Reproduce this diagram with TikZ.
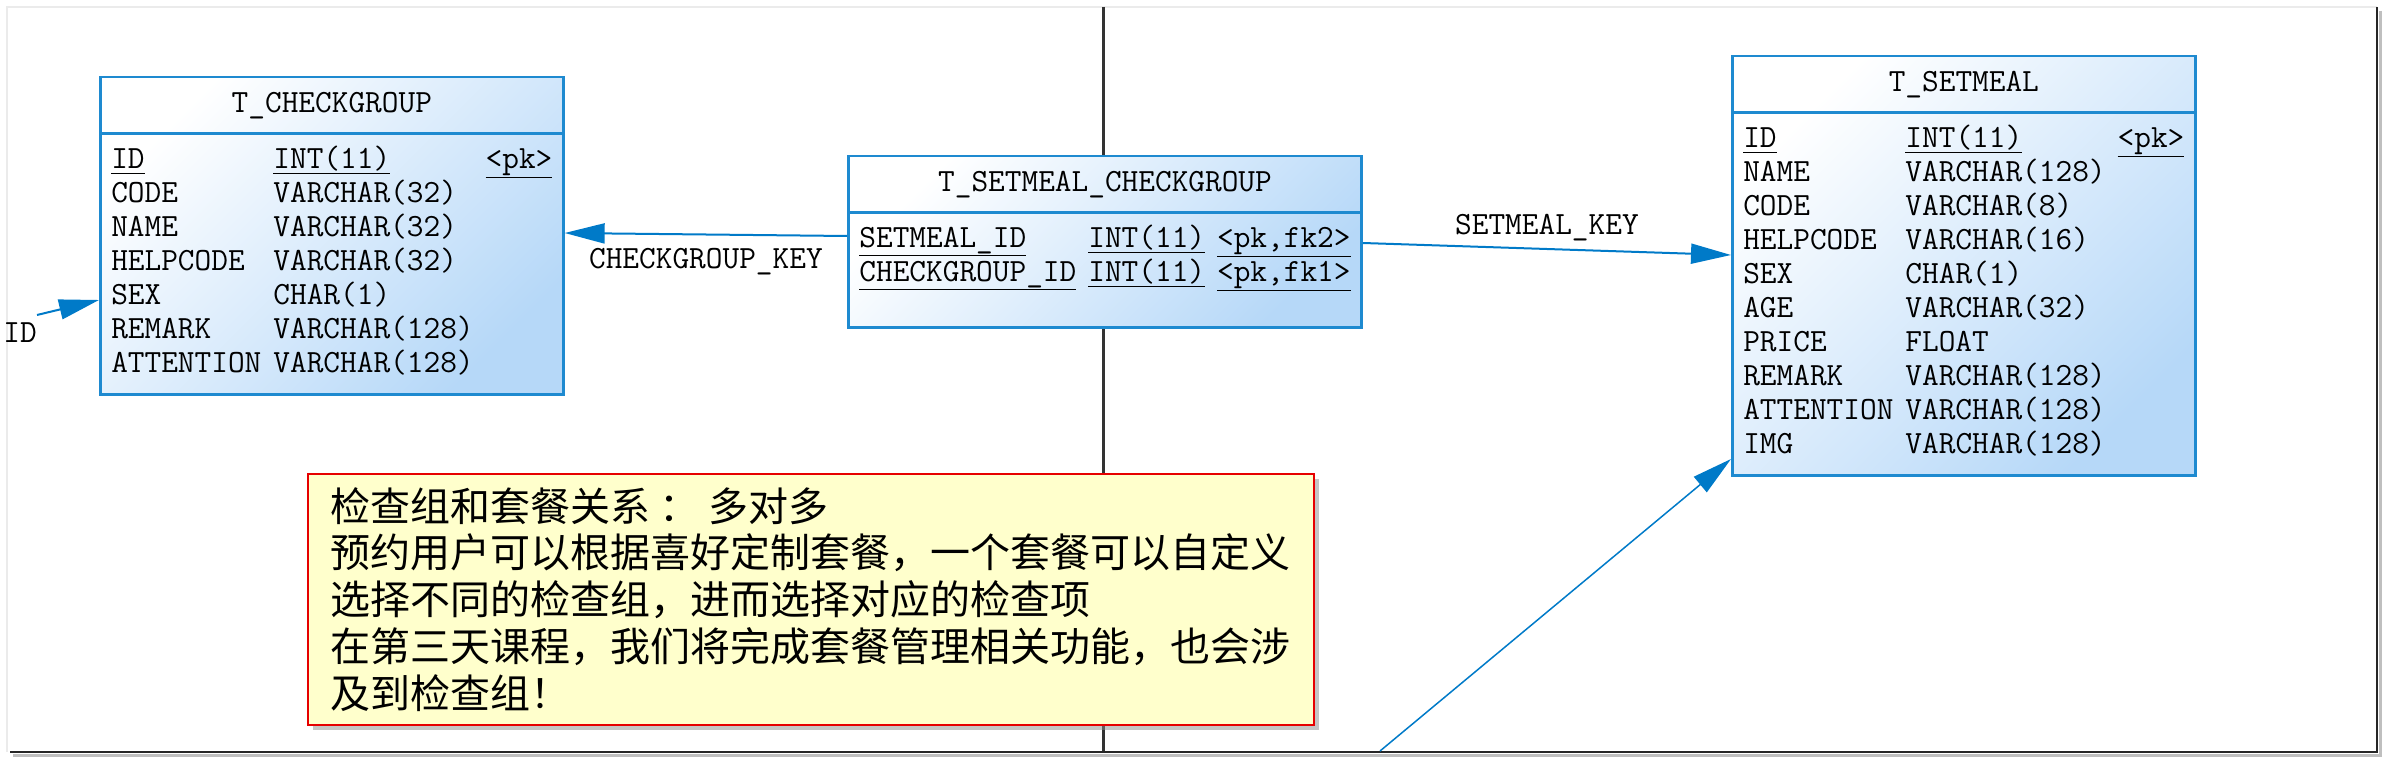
\documentclass[tikz,border=0pt]{standalone}
\usepackage{fontspec}
\newfontfamily\erfont{Latin Modern Mono}
\newfontfamily\cjkfont{Noto Sans CJK SC}
\usetikzlibrary{shapes.multipart, arrows.meta, positioning, shadows}
\definecolor{tblblue}{RGB}{30,138,208}
\definecolor{tblfill}{RGB}{182,216,248}
\definecolor{fkblue}{RGB}{0,122,200}
\definecolor{notefill}{RGB}{255,255,204}
\definecolor{notered}{RGB}{230,0,0}
\newcommand{\keyul}[1]{\underline{#1\vphantom{(}}}
\newcommand{\erfontsize}{\erfont\fontsize{32.4}{34}\selectfont}
\tikzset{
  tbl/.style={rectangle split, rectangle split parts=2, rectangle split part align={center,left},
    draw=tblblue, line width=2.5pt, top color=white, bottom color=tblfill, shading angle=45,
    inner xsep=11pt, inner ysep=10pt, font=\erfontsize},
  note/.style={draw=notered, fill=notefill, line width=1.5pt, align=left,
    font=\cjkfont\fontsize{40}{46.7}\selectfont,
    drop shadow={shadow xshift=5pt, shadow yshift=-5pt, fill=black!45}},
  fk/.style={draw=fkblue, line width=2pt, -{Triangle[length=40pt,width=20pt]}},
  keylbl/.style={font=\erfontsize, inner sep=10pt}
}
\begin{document}
\begin{tikzpicture}[x=1pt, y=-1pt]
\useasboundingbox (0,0) rectangle (2385,759);
\draw[black!8, line width=1.5pt] (7,752) -- (7,7) -- (2377,7);
\draw[black!25, line width=3pt] (2380,11) -- (2380,755) -- (13,755);
\draw[black!85, line width=2.5pt] (2377,7) -- (2377,752) -- (10,752);

\coordinate (vtop) at (1103,7);
\coordinate (vbot) at (1103,751);
\draw[black!80, line width=3pt] (vtop) -- (vbot);

\node[tbl, anchor=north west] (checkgroup) at (99,76) {\strut T\_CHECKGROUP
  \nodepart{two}
  \begin{tabular}{@{}l@{\hspace{12pt}}l@{\hspace{12pt}}l@{}}
    \keyul{ID} & \keyul{INT(11)} & \keyul{<pk>}\\
    CODE & VARCHAR(32) & \\
    NAME & VARCHAR(32) & \\
    HELPCODE & VARCHAR(32) & \\
    SEX & CHAR(1) & \\
    REMARK & VARCHAR(128) & \\
    ATTENTION & VARCHAR(128) &
  \end{tabular}};
\node[tbl, anchor=north] (setmealcg) at (1105,155) {\strut T\_SETMEAL\_CHECKGROUP
  \nodepart{two}
  \begin{tabular}{@{}l@{\hspace{12pt}}l@{\hspace{12pt}}l@{}}
    \keyul{SETMEAL\_ID} & \keyul{INT(11)} & \keyul{<pk,fk2>}\\
    \keyul{CHECKGROUP\_ID} & \keyul{INT(11)} & \keyul{<pk,fk1>}\\[24pt]
  \end{tabular}};
\node[tbl, anchor=north west] (setmeal) at (1731,55) {\strut T\_SETMEAL
  \nodepart{two}
  \begin{tabular}{@{}l@{\hspace{12pt}}l@{\hspace{12pt}}l@{}}
    \keyul{ID} & \keyul{INT(11)} & \keyul{<pk>}\\
    NAME & VARCHAR(128) & \\
    CODE & VARCHAR(8) & \\
    HELPCODE & VARCHAR(16) & \\
    SEX & CHAR(1) & \\
    AGE & VARCHAR(32) & \\
    PRICE & FLOAT & \\
    REMARK & VARCHAR(128) & \\
    ATTENTION & VARCHAR(128) & \\
    IMG & VARCHAR(128) &
  \end{tabular}};

\node[note, anchor=north west, minimum width=1006pt, minimum height=251pt] (remark) at (307,473)
  {检查组和套餐关系 ： 多对多\\
   预约用户可以根据喜好定制套餐，一个套餐可以自定义\\
   选择不同的检查组，进而选择对应的检查项\\
   在第三天课程，我们将完成套餐管理相关功能，也会涉\\
   及到检查组！};

\coordinate (idfar) at (37,315);
\coordinate (lowfar) at (1380,751);
\node[keylbl, inner sep=0pt, below left=8pt and 0pt of idfar] (idlbl) {ID};

\draw[fk] ([yshift=-81pt]setmealcg.north west) -- node[keylbl, below, yshift=-3pt] (cgkey) {CHECKGROUP\_KEY} ([yshift=-157pt]checkgroup.north east);
\draw[fk] ([yshift=-88pt]setmealcg.north east) -- node[keylbl, above, yshift=-3pt] (smkey) {SETMEAL\_KEY} ([yshift=-200pt]setmeal.north west);
\draw[fk] (idfar) -- ([yshift=-224pt]checkgroup.north west);
\draw[fk, line width=1.5pt] (lowfar) -- ([yshift=-404pt]setmeal.north west);
\end{tikzpicture}
\end{document}
